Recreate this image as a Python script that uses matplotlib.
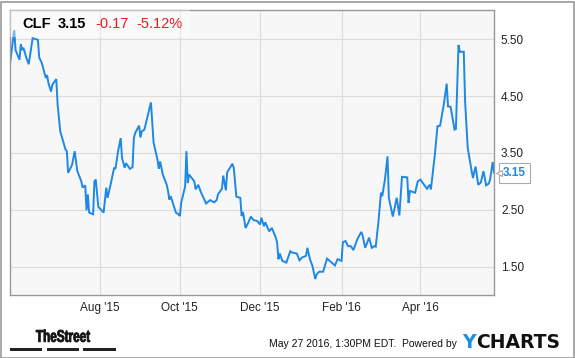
import pandas as pd
import matplotlib
matplotlib.use("Agg")
import matplotlib.pyplot as plt
import matplotlib.dates as mdates
from matplotlib.patches import Rectangle, PathPatch
from matplotlib.textpath import TextPath
from matplotlib.font_manager import FontProperties
from matplotlib.transforms import Affine2D

plt.rcParams['font.family'] = ['Liberation Sans', 'DejaVu Sans']

# CLF daily close
dates = [
    "2015-05-25", "2015-05-28", "2015-05-29", "2015-06-01", "2015-06-02", "2015-06-03",
    "2015-06-04", "2015-06-06", "2015-06-08", "2015-06-11", "2015-06-15", "2015-06-16",
    "2015-06-18", "2015-06-21", "2015-06-22", "2015-06-23", "2015-06-25", "2015-06-26",
    "2015-06-29", "2015-06-30", "2015-07-02", "2015-07-06", "2015-07-07", "2015-07-08",
    "2015-07-11", "2015-07-13", "2015-07-15", "2015-07-18", "2015-07-19", "2015-07-21",
    "2015-07-22", "2015-07-23", "2015-07-24", "2015-07-27", "2015-07-28", "2015-07-29",
    "2015-07-31", "2015-08-04", "2015-08-06", "2015-08-07", "2015-08-09", "2015-08-12",
    "2015-08-13", "2015-08-15", "2015-08-17", "2015-08-18", "2015-08-20", "2015-08-21",
    "2015-08-24", "2015-08-26", "2015-08-27", "2015-08-28", "2015-08-31", "2015-09-01",
    "2015-09-02", "2015-09-04", "2015-09-09", "2015-09-10", "2015-09-11", "2015-09-14",
    "2015-09-15", "2015-09-16", "2015-09-18", "2015-09-21", "2015-09-22", "2015-09-23",
    "2015-09-24", "2015-09-28", "2015-09-30", "2015-10-01", "2015-10-02", "2015-10-05",
    "2015-10-06", "2015-10-07", "2015-10-08", "2015-10-12", "2015-10-13", "2015-10-15",
    "2015-10-17", "2015-10-21", "2015-10-24", "2015-10-27", "2015-10-29", "2015-10-30",
    "2015-11-02", "2015-11-03", "2015-11-05", "2015-11-06", "2015-11-10", "2015-11-11",
    "2015-11-13", "2015-11-16", "2015-11-17", "2015-11-18", "2015-11-20", "2015-11-22",
    "2015-11-24", "2015-11-26", "2015-11-29", "2015-12-01", "2015-12-02", "2015-12-04",
    "2015-12-05", "2015-12-08", "2015-12-10", "2015-12-13", "2015-12-14", "2015-12-15",
    "2015-12-16", "2015-12-18", "2015-12-21", "2015-12-24", "2015-12-25", "2015-12-29",
    "2015-12-31", "2016-01-02", "2016-01-05", "2016-01-06", "2016-01-08", "2016-01-10",
    "2016-01-11", "2016-01-12", "2016-01-13", "2016-01-15", "2016-01-18", "2016-01-21",
    "2016-01-24", "2016-01-27", "2016-01-29", "2016-02-01", "2016-02-02", "2016-02-04",
    "2016-02-06", "2016-02-08", "2016-02-10", "2016-02-13", "2016-02-16", "2016-02-17",
    "2016-02-19", "2016-02-22", "2016-02-24", "2016-02-26", "2016-02-27", "2016-02-29",
    "2016-03-02", "2016-03-03", "2016-03-05", "2016-03-07", "2016-03-08", "2016-03-11",
    "2016-03-14", "2016-03-16", "2016-03-18", "2016-03-22", "2016-03-23", "2016-03-24",
    "2016-03-28", "2016-03-30", "2016-04-01", "2016-04-06", "2016-04-08", "2016-04-09",
    "2016-04-12", "2016-04-14", "2016-04-16", "2016-04-19", "2016-04-21", "2016-04-22",
    "2016-04-24", "2016-04-27", "2016-04-28", "2016-04-30", "2016-05-01", "2016-05-04",
    "2016-05-05", "2016-05-07", "2016-05-10", "2016-05-11", "2016-05-13", "2016-05-15",
    "2016-05-17", "2016-05-19", "2016-05-21", "2016-05-23", "2016-05-24", "2016-05-26",
    "2016-05-27",
]
prices = [
    5.11, 5.66, 5.31, 5.14, 5.41, 5.31,
    5.35, 5.19, 5.06, 5.52, 5.49, 5.18,
    5.08, 4.82, 4.87, 4.73, 4.58, 4.70,
    4.80, 4.35, 3.88, 3.56, 3.53, 3.15,
    3.29, 3.53, 3.18, 3.00, 2.89, 2.93,
    2.49, 2.77, 2.45, 2.42, 3.00, 3.03,
    2.55, 2.45, 2.89, 2.71, 2.91, 3.24,
    3.22, 3.53, 3.76, 3.41, 3.24, 3.32,
    3.22, 3.25, 3.76, 3.85, 3.98, 3.77,
    3.88, 3.91, 4.39, 4.03, 3.68, 3.38,
    3.22, 3.35, 3.12, 2.94, 2.83, 2.68,
    2.74, 2.45, 2.42, 2.39, 2.62, 2.91,
    3.53, 2.97, 3.12, 3.00, 2.86, 2.94,
    2.81, 2.61, 2.67, 2.63, 2.67, 2.77,
    2.87, 3.10, 2.84, 3.16, 3.31, 3.24,
    2.73, 2.71, 2.39, 2.46, 2.18, 2.27,
    2.38, 2.32, 2.30, 2.24, 2.36, 2.21,
    2.28, 2.12, 2.18, 2.01, 1.92, 1.63,
    1.73, 1.60, 1.57, 1.77, 1.75, 1.73,
    1.61, 1.66, 1.69, 1.83, 1.63, 1.50,
    1.39, 1.28, 1.36, 1.41, 1.41, 1.64,
    1.58, 1.52, 1.63, 1.60, 1.93, 1.95,
    1.86, 1.86, 1.79, 1.98, 2.11, 2.05,
    1.83, 2.01, 1.83, 1.86, 1.85, 2.27,
    2.80, 2.74, 3.03, 3.44, 2.71, 2.38,
    2.71, 2.40, 3.08, 3.07, 2.62, 2.83,
    2.80, 3.00, 3.03, 2.87, 2.94, 2.86,
    3.47, 3.97, 3.98, 4.38, 4.72, 4.32,
    4.31, 3.91, 3.92, 5.40, 5.28, 5.28,
    4.41, 3.59, 3.18, 3.06, 3.26, 2.94,
    2.98, 3.18, 2.93, 2.96, 3.03, 3.34,
    3.15,
]

ticker = "CLF"
last = "3.15"
change = "-0.17"
pct = "-5.12%"
y_ticks = [1.50, 2.50, 3.50, 4.50, 5.50]

W, H = 575, 358
fig = plt.figure(figsize=(W / 100, H / 100), dpi=100)
fig.patch.set_facecolor("white")

# plot area in pixels
x0, y0, x1, y1 = 10.3, 10.3, 494, 295
ax = fig.add_axes([x0 / W, 1 - y1 / H, (x1 - x0) / W, (y1 - y0) / H])
ax.set_facecolor("#f7f7f7")

d = pd.to_datetime(dates)
ax.plot(d, prices, color="#1e88e5", lw=1.4, solid_joinstyle="miter")

ax.set_xlim(pd.Timestamp("2015-05-25"), pd.Timestamp("2016-05-27"))
ax.set_ylim(1.0, 6.01)
ax.set_yticks(y_ticks)
ax.yaxis.set_major_formatter(matplotlib.ticker.FormatStrFormatter("%.2f"))
ax.xaxis.set_major_locator(mdates.MonthLocator(bymonth=[2, 4, 8, 10, 12]))
ax.xaxis.set_major_formatter(mdates.DateFormatter("%b '%y"))
ax.yaxis.tick_right()
ax.tick_params(length=0, labelsize=8.5, colors="#222222")
ax.tick_params(axis="y", pad=5)
ax.tick_params(axis="x", pad=5)
ax.grid(True, color="#dcdcdc", lw=0.8)
for s in ax.spines.values():
    s.set_color("#999999")
    s.set_linewidth(1)

# title box
ax.add_patch(Rectangle((0, 1 - 27 / (y1 - y0)), 180 / (x1 - x0), 27 / (y1 - y0),
                       transform=ax.transAxes, facecolor="white", alpha=0.4,
                       edgecolor="none", zorder=3))
ty = 1 - 24 / H
fig.text(22 / W, ty, ticker, fontsize=10.5, fontweight="bold", va="center")
fig.text(58 / W, ty, last, fontsize=10.5, fontweight="bold", va="center")
fig.text(95 / W, ty, change, fontsize=10.5, color="#f01a1a", va="center")
fig.text(136 / W, ty, pct, fontsize=10.5, color="#f01a1a", va="center")

# last value label
tr = matplotlib.transforms.blended_transform_factory(ax.transAxes, ax.transData)
ax.text(1.0 + 9 / (x1 - x0), prices[-1], last, transform=tr, fontsize=8.5,
        fontweight="bold", color="#1e88e5", va="center", ha="left", zorder=5,
        bbox=dict(boxstyle="square,pad=0.32", facecolor="white", edgecolor="#aaaaaa", lw=0.8),
        clip_on=False)
ax.plot([1.0 + 4.5 / (x1 - x0)], [prices[-1]], transform=tr, marker="<", ms=5,
        mfc="white", mec="#aaaaaa", mew=0.8, clip_on=False, zorder=6)

# footer: TheStreet logo, squeezed text path in pixel coords
fp = FontProperties(family="Liberation Sans", weight="bold", size=14)
tp = TextPath((0, 0), "TheStreet", prop=fp)
bb = tp.get_extents()
logo = Affine2D().translate(-bb.x0, -bb.y0).scale(54 / bb.width, 12.5 / bb.height)
logo = logo.translate(36, H - 342)
fig.patches.append(PathPatch(tp, transform=logo, facecolor="#111111",
                             edgecolor="#111111", lw=0.6))
for bx in [(10, 42), (47, 79), (83, 116)]:
    fig.patches.append(Rectangle((bx[0] / W, 1 - 350.5 / H), (bx[1] - bx[0]) / W, 3 / H,
                                 transform=fig.transFigure, facecolor="#222222",
                                 edgecolor="none"))
fig.text(269 / W, 1 - 344 / H, "May 27 2016, 1:30PM EDT.  Powered by", fontsize=7.5,
         ha="left", va="center", color="#111111")
fig.text(462 / W, 1 - 343 / H, "Y", fontsize=13.5, fontweight="bold", color="#1a8fe3",
         ha="left", va="center", family="DejaVu Sans")
fig.text(476 / W, 1 - 343 / H, "CHARTS", fontsize=13.5, fontweight="bold", color="#111111",
         ha="left", va="center", family="DejaVu Sans")

# outer border
fig.patches.append(Rectangle((0.5 / W, 0.5 / H), (W - 2) / W, (H - 2) / H,
                             transform=fig.transFigure, facecolor="none",
                             edgecolor="#999999", lw=1.2))

fig.savefig("out.png", dpi=100)
